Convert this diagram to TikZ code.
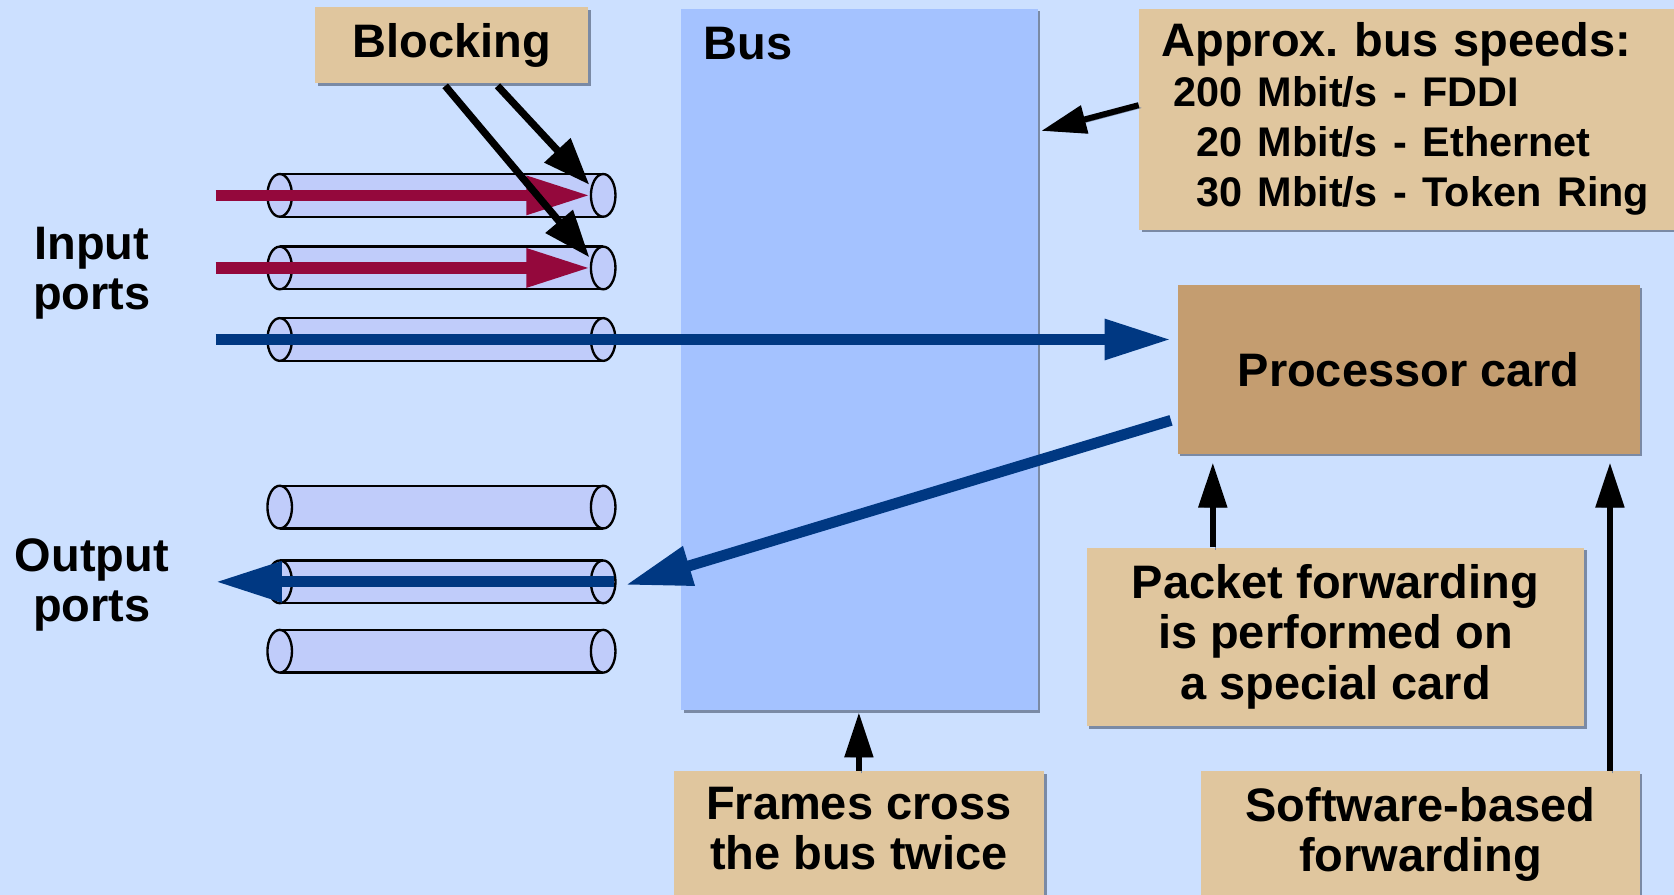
\documentclass[tikz,border=0pt]{standalone}
\usepackage{fontspec}
\setmainfont{Liberation Sans}
\usepackage{xcolor}
\usepackage{tikz}
\usetikzlibrary{arrows.meta,shadows}
\definecolor{bgblue}{RGB}{204,224,255}
\definecolor{busblue}{RGB}{164,194,255}
\definecolor{tubeblue}{RGB}{192,204,250}
\definecolor{cardtan}{RGB}{224,198,158}
\definecolor{procbrown}{RGB}{196,157,112}
\definecolor{portred}{RGB}{148,8,60}
\definecolor{linkblue}{RGB}{0,56,130}
\definecolor{shadowgray}{RGB}{122,138,165}
\frenchspacing

\begin{document}
\begin{tikzpicture}[x=0.5pt,y=-0.5pt,
		boxshadow/.style={drop shadow={shadow xshift=1.2pt,shadow yshift=-1.2pt,fill=shadowgray,opacity=1}},
		card/.style={fill=cardtan,align=center,boxshadow},
		redarr/.style={color=portred,line width=5.3pt,-{Triangle[length=30pt,width=17pt]}},
		bluearr/.style={color=linkblue,line width=5.1pt,-{Triangle[length=31pt,width=18pt]}},
		blockarr/.style={color=black,line width=3.4pt,-{Triangle[length=22pt,width=16pt]}},
		blkarr/.style={color=black,line width=2.8pt,-{Triangle[length=21pt,width=13pt]},
			preaction={draw,color=shadowgray,transform canvas={xshift=1.2pt,yshift=-1.2pt}}}]
	\tikzstyle{every node}+=[inner sep=0pt,font=\fontsize{22pt}{23.5pt}\selectfont\bfseries]
	\useasboundingbox[fill=bgblue] (0,0) rectangle (1568,838);
	\node[fill=busblue,boxshadow,minimum width=167pt,minimum height=328.5pt] (bus) at (805,336.5) {};
	\node[anchor=base west] (buslbl) at (659,56) {Bus};
	\foreach \y [count=\i] in {183,251,318,475,545,610} {
		\fill[tubeblue] (262,\y-20) rectangle (565,\y+20);
		\draw[line width=1.1pt] (262,\y-20) -- (565,\y-20) (262,\y+20) -- (565,\y+20);
		\filldraw[fill=tubeblue,line width=1.1pt] (262,\y) ellipse (11.5 and 20) (565,\y) ellipse (11.5 and 20);
		\coordinate (tw\i) at (202,\y);
		\coordinate (te\i) at (553,\y);
		\coordinate (tnw\i) at (552,\y-10);
	}
	\node[align=center] (inlbl) at (86,256) {Input\\ports};
	\node[align=center] (outlbl) at (86,548) {Output\\ports};
	\node[card,minimum width=128pt,minimum height=35.5pt] (block) at (423,42.5) {Blocking};
	\node[card,align=left,text width=240pt,inner xsep=10.5pt,minimum height=103.5pt] (speeds) at (1328,111.5) {Approx. bus speeds:\\\fontsize{19.4pt}{23.5pt}\selectfont\hspace*{5.4pt}200 Mbit/s - FDDI\\\hspace*{16.2pt}20 Mbit/s - Ethernet\\\hspace*{16.2pt}30 Mbit/s - Token Ring};
	\node[card,fill=procbrown,minimum width=216.5pt,minimum height=79pt] (proc) at (1319.5,346) {Processor card};
	\node[card,minimum width=233pt,minimum height=83.5pt] (packet) at (1251,596.5) {Packet forwarding\\is performed on\\a special card};
	\node[card,anchor=north,minimum width=173.5pt,inner ysep=7.5pt,text depth=40pt] (frames) at (804.5,722) {Frames cross\\the bus twice};
	\node[card,anchor=north,minimum width=205.5pt,inner ysep=7.5pt,text depth=40pt] (soft) at (1330.5,722) {Software-based\\forwarding};
	\coordinate (outtip) at (586,548);
	\coordinate (pk) at ([xshift=-57.5pt]packet.north);
	\coordinate (sw) at ([xshift=88.75pt]soft.north);
	\draw[redarr] (tw1) -- (te1);
	\draw[redarr] (tw2) -- (te2);
	\draw[bluearr,shorten >=3pt] (tw3) -- (tw3 -| proc.west);
	\draw[bluearr,shorten <=3pt] ([yshift=-23pt]proc.west) -- (outtip);
	\draw[bluearr] ([xshift=11pt]te5) -- (tw5);
	\draw[blockarr] ([xshift=21.5pt,yshift=-1pt]block.south) -- (tnw1);
	\draw[blockarr] ([xshift=-3pt,yshift=-1pt]block.south) -- (tnw2);
	\draw[blkarr] ([yshift=6.5pt]speeds.west) -- ([xshift=1.5pt,yshift=-57.5pt]bus.north east);
	\draw[blkarr,shorten >=4pt] (pk) -- (pk |- proc.south);
	\draw[blkarr,shorten >=4pt] (sw) -- (sw |- proc.south);
	\draw[blkarr,shorten >=1pt] (frames.north) -- (frames.north |- bus.south);
\end{tikzpicture}
\end{document}
